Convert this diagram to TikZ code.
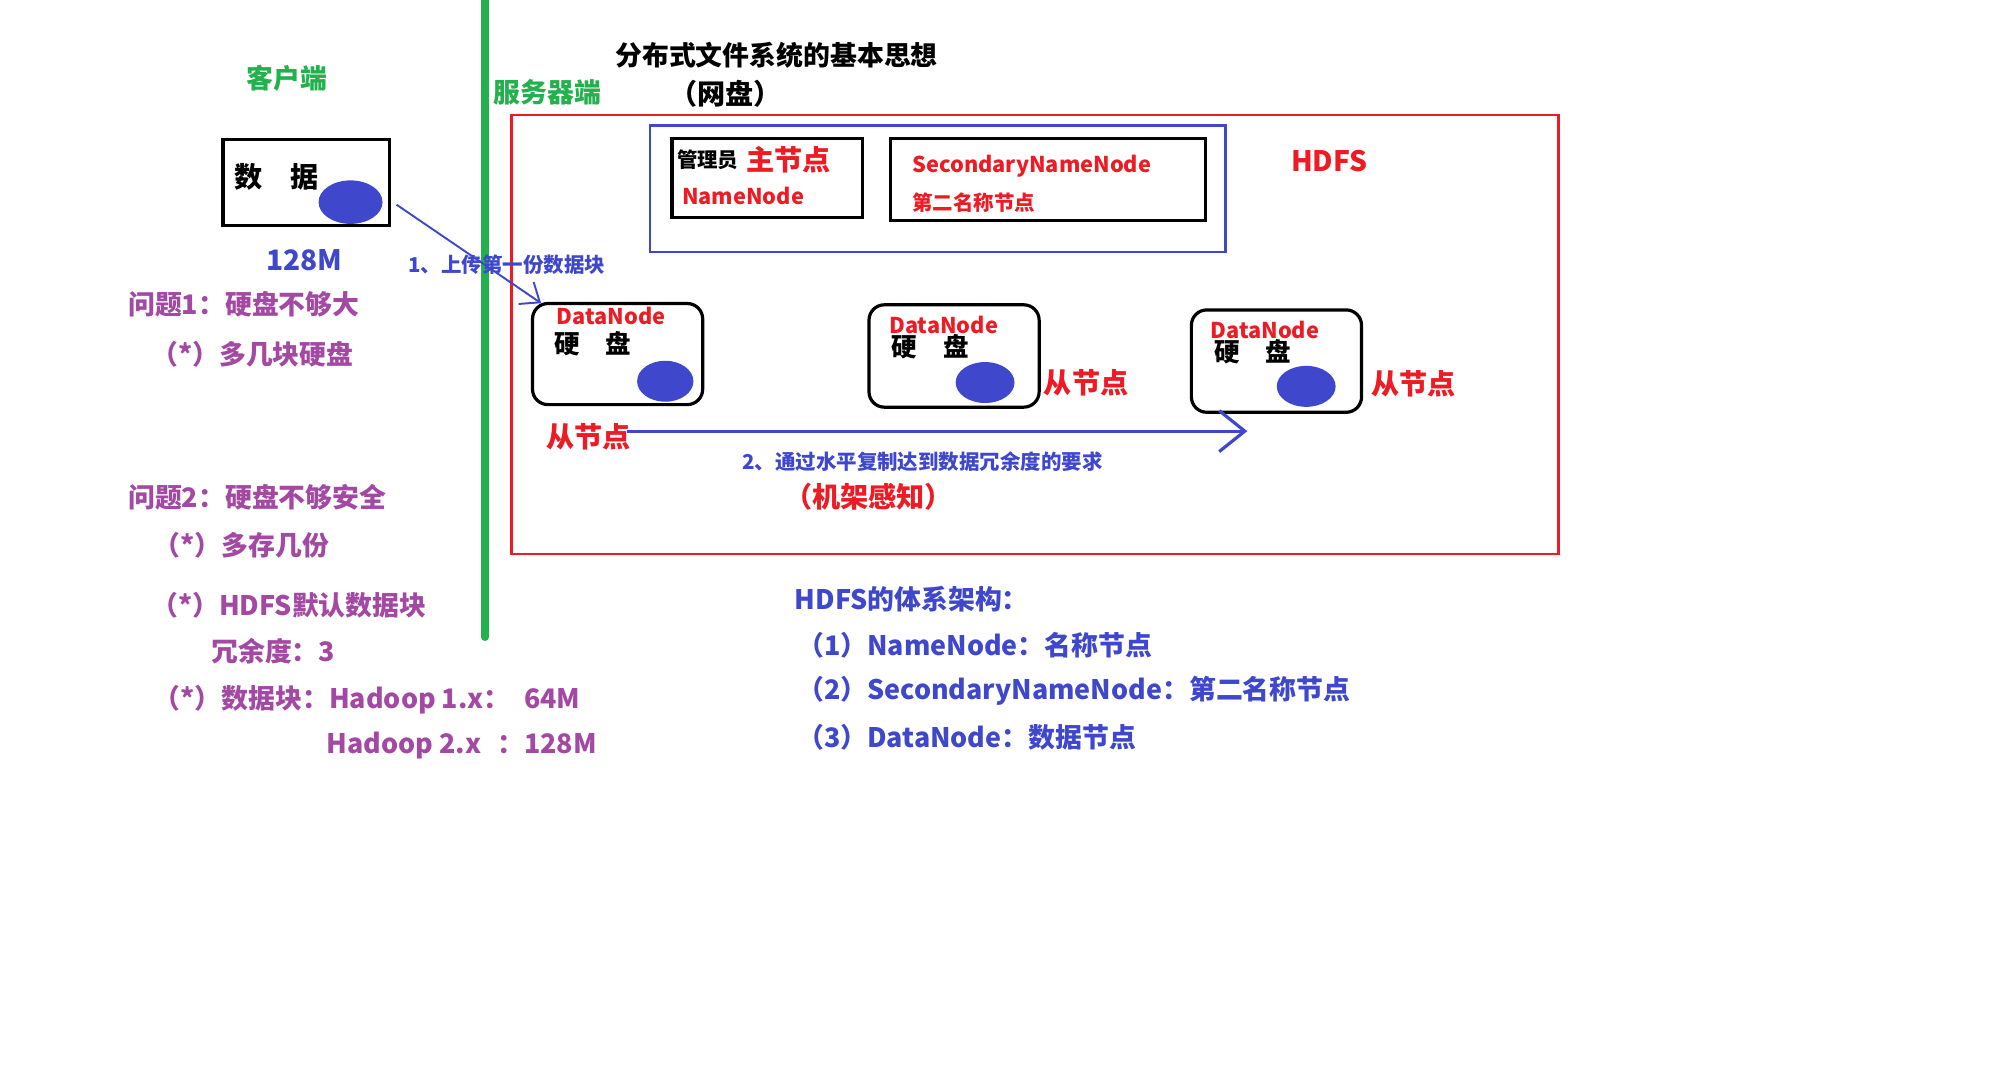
\documentclass[tikz,border=0pt]{standalone}
\usepackage{fontspec}
\setmainfont{Noto Sans CJK SC}
\usetikzlibrary{arrows.meta,shapes.geometric}
\definecolor{pgreen}{RGB}{34,177,76}
\definecolor{pblue}{RGB}{63,72,204}
\definecolor{pred}{RGB}{237,28,36}
\definecolor{ppurple}{RGB}{163,73,164}
\begin{document}
\begin{tikzpicture}[x=1pt,y=-1pt,
  lbl/.style={inner sep=0pt, font=\bfseries\fontsize{#1}{#1}\selectfont},
  lw/.style={lbl=#1, anchor=west},
  blackbox/.style={draw=black, line width=2.5, inner sep=0pt, anchor=north west},
  dnbox/.style={blackbox, rounded corners=12},
  disk/.style={ellipse, fill=pblue, inner sep=0pt, minimum width=#1, minimum height=32},
  barb/.style={-{Straight Barb[length=#1, width=1.6*#1]}}
]
\fill[white] (0,0) rectangle (1568,839);
\useasboundingbox (0,0) rectangle (1568,839);

% divider
\draw[pgreen, line width=6, line cap=round] (379,-5) -- (379,498);

% headings
\node[lbl=21, text=pgreen] (client) at (224,61) {客户端};
\node[lbl=21, text=pgreen] (server) at (428,72) {服务器端};
\node[lbl=21] (title) at (607,43) {分布式文件系统的基本思想};
\node[lbl=22] (title2) at (567,73) {（网盘）};

% client data box
\node[blackbox, minimum width=130, minimum height=67] (databox) at (173,108) {};
\node[lw=22] (datatxt) at (183,138) {数\hspace{1em}据};
\node[disk=50, minimum height=34] (disk0) at (274,158) {};
\node[lbl=22, text=pblue] (size) at (238,203) {128M};

% HDFS frame
\node[draw=pred, line width=2, inner sep=0pt, anchor=north west, minimum width=818, minimum height=343] (hdfs) at (399,89) {};
\node[draw=pblue, line width=2, inner sep=0pt, anchor=north west, minimum width=450, minimum height=99] (master) at (507,97) {};
\node[blackbox, minimum width=149, minimum height=62] (nn) at (524,107) {};
\node[lw=16] (admin) at (529,125) {管理员};
\node[lw=22, text=pred] (mainnode) at (583,125) {主节点};
\node[lw=17, text=pred] (nntxt) at (533,153) {NameNode};
\node[blackbox, minimum width=246, minimum height=64] (snn) at (695,107) {};
\node[lw=17, text=pred] (snntxt) at (713,130) {SecondaryNameNode};
\node[lw=16, text=pred] (snncn) at (713,158) {第二名称节点};
\node[lbl=22, text=pred] (hdfstxt) at (1039,126) {HDFS};

% label 1
\node[lbl=16, text=pblue] (lab1) at (396,207) {1、上传第一份数据块};

% data nodes
\node[dnbox, minimum width=133, minimum height=79] (dn1) at (415,236) {};
\node[lw=17, text=pred] (dn1t) at (435,247) {DataNode};
\node[lw=20] (dn1d) at (433,269) {硬\hspace{1em}盘};
\node[disk=44] (disk1) at (520,298) {};

\node[dnbox, minimum width=133, minimum height=80] (dn2) at (678,237) {};
\node[lw=17, text=pred] (dn2t) at (695,254) {DataNode};
\node[lw=20] (dn2d) at (697,271) {硬\hspace{1em}盘};
\node[disk=46] (disk2) at (770,299) {};

\node[dnbox, minimum width=133, minimum height=80] (dn3) at (930,241) {};
\node[lw=17, text=pred] (dn3t) at (946,258) {DataNode};
\node[lw=20] (dn3d) at (949,275) {硬\hspace{1em}盘};
\node[disk=46] (disk3) at (1021,302) {};

\node[lbl=22, text=pred] (slave2) at (849,299) {从节点};
\node[lbl=22, text=pred] (slave3) at (1105,300) {从节点};
\node[lbl=22, text=pred] (slave1) at (460,341) {从节点};

% arrows
\coordinate (a1s) at (310,160);
\coordinate (a1e) at (423,237);
\draw[pblue, line width=1.5, barb=13] (a1s) -- (a1e);
\coordinate (a2s) at (490,337);
\coordinate (a2e) at (975,337);
\draw[pblue, line width=2.5, barb=20] (a2s) -- (a2e);

\node[lbl=16, text=pblue] (lab2) at (721,361) {2、通过水平复制达到数据冗余度的要求};
\node[lbl=22, text=pred] (rack) at (679,388) {（机架感知）};

% left notes
\begin{scope}[every node/.style={lw=21, text=ppurple}]
\node (q1) at (100,238) {问题1：硬盘不够大};
\node (q1a) at (118,277) {（*）多几块硬盘};
\node (q2) at (100,389) {问题2：硬盘不够安全};
\node (q2a) at (120,426) {（*）多存几份};
\node (q2b) at (118,473) {（*）HDFS默认数据块};
\node (q2c) at (165,509) {冗余度：3};
\node (q2d) at (120,547) {（*）数据块：Hadoop 1.x：\hspace{0.5em}64M};
\node (q2e) at (255,583) {Hadoop 2.x\hspace{0.6em}：128M};
\end{scope}

% architecture list
\begin{scope}[every node/.style={lw=21, text=pblue}]
\node (arch) at (621,468) {HDFS的体系架构：};
\node (arch1) at (623,504) {（1）NameNode：名称节点};
\node (arch2) at (623,540) {（2）SecondaryNameNode：第二名称节点};
\node (arch3) at (623,576) {（3）DataNode：数据节点};
\end{scope}
\end{tikzpicture}
\end{document}
